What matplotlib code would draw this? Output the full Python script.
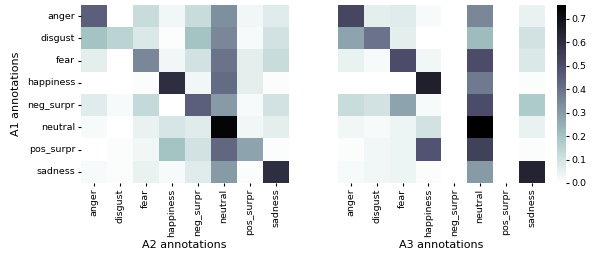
import matplotlib
matplotlib.use("Agg")
import matplotlib.pyplot as plt
import numpy as np
import pandas as pd
import seaborn as sns

emotions = ["anger", "disgust", "fear", "happiness", "neg_surpr", "neutral", "pos_surpr", "sadness"]

# A1 (rows) vs A2 (columns)
a1_a2 = [
    [0.45, 0.00, 0.12, 0.03, 0.12, 0.33, 0.03, 0.07],
    [0.20, 0.15, 0.08, 0.01, 0.20, 0.35, 0.02, 0.10],
    [0.06, 0.00, 0.35, 0.03, 0.10, 0.40, 0.06, 0.12],
    [0.00, 0.00, 0.01, 0.60, 0.03, 0.42, 0.06, 0.01],
    [0.07, 0.02, 0.13, 0.00, 0.45, 0.30, 0.02, 0.10],
    [0.02, 0.00, 0.05, 0.09, 0.07, 0.74, 0.03, 0.06],
    [0.00, 0.01, 0.03, 0.20, 0.10, 0.43, 0.28, 0.01],
    [0.02, 0.01, 0.05, 0.02, 0.07, 0.30, 0.01, 0.60],
]

# A1 (rows) vs A3 (columns); A3 never used neg_surpr / pos_surpr
nan = np.nan
a1_a3 = [
    [0.52, 0.06, 0.07, 0.02, nan, 0.35, nan, 0.05],
    [0.28, 0.40, 0.06, 0.00, nan, 0.22, nan, 0.10],
    [0.05, 0.02, 0.50, 0.03, nan, 0.50, nan, 0.08],
    [0.00, 0.00, 0.00, 0.65, nan, 0.38, nan, 0.01],
    [0.12, 0.10, 0.28, 0.02, nan, 0.50, nan, 0.18],
    [0.03, 0.02, 0.04, 0.10, nan, 0.76, nan, 0.05],
    [0.01, 0.03, 0.04, 0.48, nan, 0.54, nan, 0.01],
    [0.02, 0.03, 0.04, 0.01, nan, 0.30, nan, 0.64],
]

df2 = pd.DataFrame(a1_a2, index=emotions, columns=emotions)
df3 = pd.DataFrame(a1_a3, index=emotions, columns=emotions)

fig = plt.figure(figsize=(5.94, 2.57), dpi=100)
ax1 = fig.add_axes([0.136, 0.288, 0.350, 0.693])
ax2 = fig.add_axes([0.569, 0.288, 0.348, 0.693])
cax = fig.add_axes([0.938, 0.288, 0.0152, 0.693])

vmax = 0.76
sns.heatmap(df2, ax=ax1, cmap="bone_r", vmin=0, vmax=vmax, cbar=False)
sns.heatmap(df3, ax=ax2, cmap="bone_r", vmin=0, vmax=vmax, cbar_ax=cax)

for ax in (ax1, ax2):
    ax.tick_params(labelsize=6.8, length=2.5, pad=1.5)
    ax.set_xticklabels(emotions, rotation=90)
ax1.set_yticklabels(emotions, rotation=0)
ax2.set_yticks([])
ax1.set_ylabel("A1 annotations", fontsize=8)
ax1.set_xlabel("A2 annotations", fontsize=8, labelpad=2)
ax2.set_xlabel("A3 annotations", fontsize=8, labelpad=2)
cax.tick_params(labelsize=6.8, length=2.5, pad=1.5)

fig.savefig("out.png", dpi=100)
